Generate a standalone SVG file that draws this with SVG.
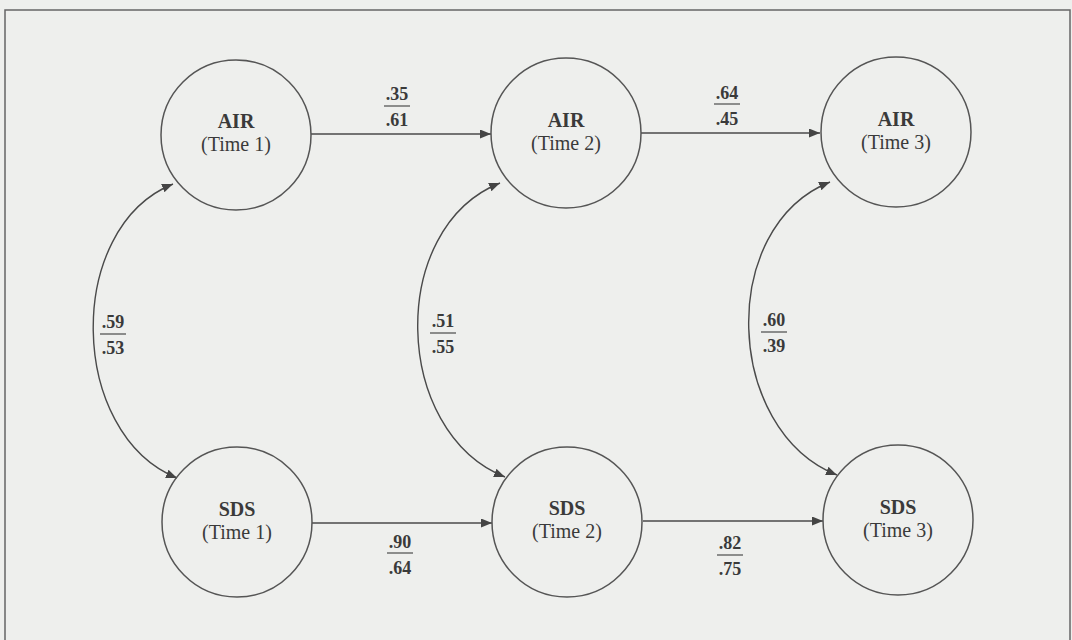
<svg xmlns="http://www.w3.org/2000/svg" width="1072" height="640" viewBox="0 0 1072 640">
  <defs>
    <marker id="arr" markerUnits="userSpaceOnUse" markerWidth="12" markerHeight="10" refX="11" refY="4.5" orient="auto-start-reverse">
      <path d="M0,0 L11,4.5 L0,9 Z" fill="#444"/>
    </marker>
    <style>
      .node circle { fill: none; stroke: #555; stroke-width: 1.5; }
      .t1 { font-family: "Liberation Serif", "Times New Roman", serif; font-weight: bold; font-size: 20px; fill: #3a3a3a; text-anchor: middle; }
      .t2 { font-family: "Liberation Serif", "Times New Roman", serif; font-size: 20px; fill: #3a3a3a; text-anchor: middle; }
      .num { font-family: "Liberation Serif", "Times New Roman", serif; font-weight: bold; font-size: 18px; fill: #3a3a3a; text-anchor: middle; }
      .conn path { fill: none; stroke: #4a4a4a; stroke-width: 1.4; }
      .frac { stroke: #4a4a4a; stroke-width: 1.2; }
    </style>
  </defs>
  <rect x="0" y="0" width="1072" height="640" fill="#eeefed"/>
  <rect x="5" y="10" width="1065" height="650" fill="none" stroke="#666" stroke-width="1.5"/>

  <g id="connectors" class="conn">
    <path d="M311,134 L491,134" marker-end="url(#arr)"/>
    <path d="M641,133 L820,133" marker-end="url(#arr)"/>
    <path d="M312,523 L492,523" marker-end="url(#arr)"/>
    <path d="M643,521 L823,521" marker-end="url(#arr)"/>
    <path d="M173,184 C64,228 68,434 177,478" marker-start="url(#arr)" marker-end="url(#arr)"/>
    <path d="M500,183 C387,228 392,432 505,477" marker-start="url(#arr)" marker-end="url(#arr)"/>
    <path d="M830,182 C717,227 724,430 837,475" marker-start="url(#arr)" marker-end="url(#arr)"/>
  </g>

  <g id="labels">
    <text class="num" x="397" y="100">.35</text>
    <line class="frac" x1="384" y1="106" x2="410" y2="106"/>
    <text class="num" x="397" y="126">.61</text>

    <text class="num" x="727" y="99">.64</text>
    <line class="frac" x1="714" y1="104" x2="740" y2="104"/>
    <text class="num" x="727" y="125">.45</text>

    <text class="num" x="400" y="548">.90</text>
    <line class="frac" x1="387" y1="553" x2="413" y2="553"/>
    <text class="num" x="400" y="574">.64</text>

    <text class="num" x="730" y="549">.82</text>
    <line class="frac" x1="717" y1="555" x2="743" y2="555"/>
    <text class="num" x="730" y="575">.75</text>

    <text class="num" x="113" y="328">.59</text>
    <line class="frac" x1="100" y1="334" x2="126" y2="334"/>
    <text class="num" x="113" y="354">.53</text>

    <text class="num" x="443" y="327">.51</text>
    <line class="frac" x1="430" y1="333" x2="456" y2="333"/>
    <text class="num" x="443" y="353">.55</text>

    <text class="num" x="774" y="326">.60</text>
    <line class="frac" x1="761" y1="332" x2="787" y2="332"/>
    <text class="num" x="774" y="352">.39</text>
  </g>

  <g id="air1" class="node">
    <circle cx="236" cy="135" r="75"/>
    <text class="t1" x="236" y="128">AIR</text>
    <text class="t2" x="236" y="151">(Time 1)</text>
  </g>
  <g id="air2" class="node">
    <circle cx="566" cy="133" r="75"/>
    <text class="t1" x="566" y="127">AIR</text>
    <text class="t2" x="566" y="150">(Time 2)</text>
  </g>
  <g id="air3" class="node">
    <circle cx="896" cy="132" r="75"/>
    <text class="t1" x="896" y="126">AIR</text>
    <text class="t2" x="896" y="149">(Time 3)</text>
  </g>
  <g id="sds1" class="node">
    <circle cx="237" cy="522" r="75"/>
    <text class="t1" x="237" y="516">SDS</text>
    <text class="t2" x="237" y="539">(Time 1)</text>
  </g>
  <g id="sds2" class="node">
    <circle cx="567" cy="522" r="75"/>
    <text class="t1" x="567" y="515">SDS</text>
    <text class="t2" x="567" y="538">(Time 2)</text>
  </g>
  <g id="sds3" class="node">
    <circle cx="898" cy="520" r="75"/>
    <text class="t1" x="898" y="514">SDS</text>
    <text class="t2" x="898" y="537">(Time 3)</text>
  </g>
</svg>
